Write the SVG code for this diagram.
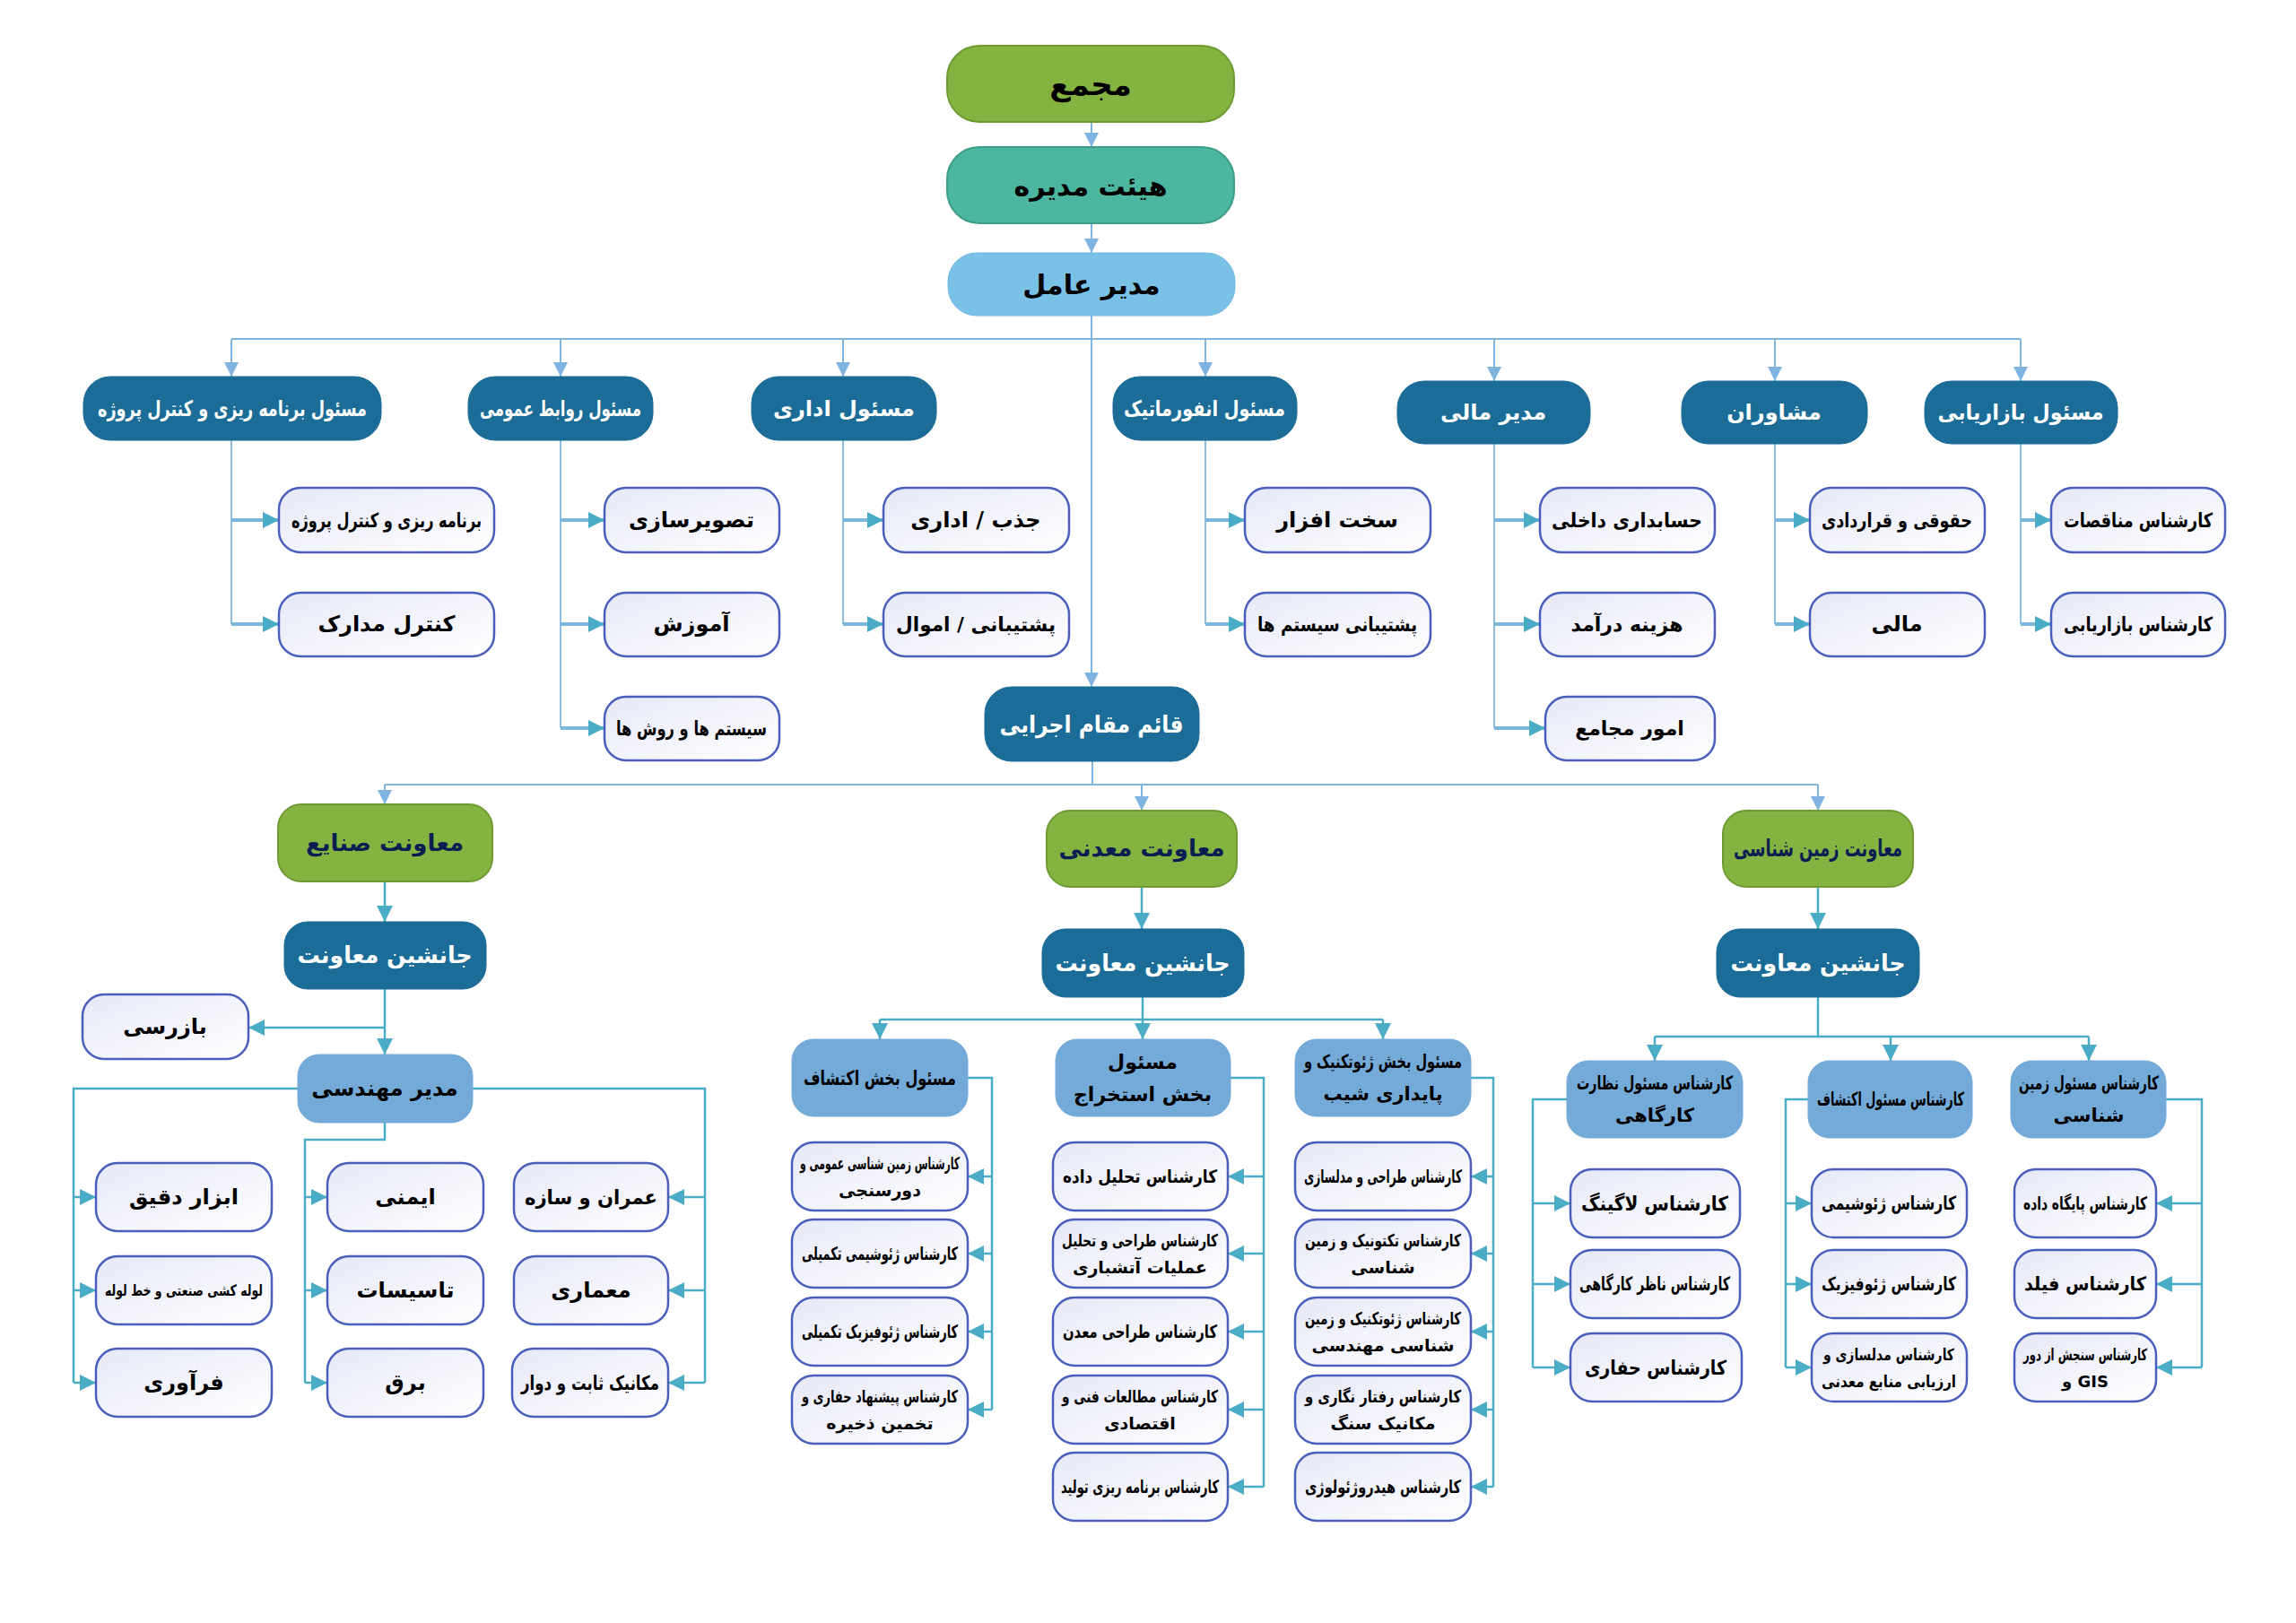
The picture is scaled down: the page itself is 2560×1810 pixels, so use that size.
<svg xmlns="http://www.w3.org/2000/svg" width="2560" height="1810" viewBox="0 0 2560 1810">
<style>
.t{font-family:"DejaVu Sans","Noto Sans",sans-serif;font-weight:bold;text-anchor:middle;dominant-baseline:central}
.g{fill:#84B341;stroke:#6F9A33;stroke-width:2}
.tl{fill:#4DB6A0;stroke:#3F9C89;stroke-width:2}
.lb{fill:#7AC1E8;stroke:#70B8E0;stroke-width:1}
.db{fill:#1B6C97;stroke:#1B6C97;stroke-width:1}
.mb{fill:#74AAD8;stroke:#74AAD8;stroke-width:1}
.cb{fill:url(#cg);stroke:#4A5EBC;stroke-width:2.5}
.w{fill:#FFFFFF}
.k{fill:#000000}
.n{fill:#0B1D51}
.c1{fill:none;stroke:#7FB3E0;stroke-width:2;marker-end:url(#a1)}
.c1n{fill:none;stroke:#7FB3E0;stroke-width:2}
.c2{fill:none;stroke:#8DBDE3;stroke-width:2}
.c3{fill:none;stroke:#7BB7DC;stroke-width:4;marker-end:url(#a2)}
.c4{fill:none;stroke:#4BACC6;stroke-width:2.5;marker-end:url(#a2)}
.c4n{fill:none;stroke:#4BACC6;stroke-width:2.5}
</style>
<defs>
<linearGradient id="cg" x1="0" y1="0" x2="1" y2="1">
<stop offset="0" stop-color="#E6E8F7"/>
<stop offset="1" stop-color="#FFFFFF"/>
</linearGradient>
<marker id="a1" viewBox="0 0 10 10" refX="10" refY="5" markerWidth="16" markerHeight="16" markerUnits="userSpaceOnUse" orient="auto">
<path d="M0,0 L10,5 L0,10 z" fill="#7FB3E0"/>
</marker>
<marker id="a2" viewBox="0 0 10 10" refX="10" refY="5" markerWidth="18" markerHeight="18" markerUnits="userSpaceOnUse" orient="auto">
<path d="M0,0 L10,5 L0,10 z" fill="#4BACC6"/>
</marker>
</defs>
<rect width="2560" height="1810" fill="#FFFFFF"/>

<g id="connectors">
<path class="c1" d="M1217,136 V164"/>
<path class="c1" d="M1217,249 V282"/>
<path class="c1" d="M1217,352 V766"/>
<path class="c1n" d="M258,378 H2253"/>
<path class="c1" d="M258,378 V420"/>
<path class="c1" d="M625,378 V420"/>
<path class="c1" d="M940,378 V420"/>
<path class="c1" d="M1344,378 V420"/>
<path class="c1" d="M1666,378 V425"/>
<path class="c1" d="M1979,378 V425"/>
<path class="c1" d="M2253,378 V425"/>
<path class="c2" d="M258,491 V696"/>
<path class="c3" d="M258,580 H311"/>
<path class="c3" d="M258,696 H311"/>
<path class="c2" d="M625,491 V812"/>
<path class="c3" d="M625,580 H674"/>
<path class="c3" d="M625,696 H674"/>
<path class="c3" d="M625,812 H674"/>
<path class="c2" d="M940,491 V696"/>
<path class="c3" d="M940,580 H985"/>
<path class="c3" d="M940,696 H985"/>
<path class="c2" d="M1344,491 V696"/>
<path class="c3" d="M1344,580 H1388"/>
<path class="c3" d="M1344,696 H1388"/>
<path class="c2" d="M1666,495 V812"/>
<path class="c3" d="M1666,580 H1717"/>
<path class="c3" d="M1666,696 H1717"/>
<path class="c3" d="M1666,812 H1723"/>
<path class="c2" d="M1979,495 V696"/>
<path class="c3" d="M1979,580 H2018"/>
<path class="c3" d="M1979,696 H2018"/>
<path class="c2" d="M2253,495 V696"/>
<path class="c3" d="M2253,580 H2287"/>
<path class="c3" d="M2253,696 H2287"/>
<path class="c1n" d="M1218,849 V875"/>
<path class="c1n" d="M429,875 H2027"/>
<path class="c1" d="M429,875 V897"/>
<path class="c1" d="M1273,875 V904"/>
<path class="c1" d="M2027,875 V904"/>
<path class="c4" d="M429,983 V1028"/>
<path class="c4" d="M1273,989 V1036"/>
<path class="c4" d="M2027,989 V1036"/>
<path class="c4" d="M429,1103 V1176"/>
<path class="c4" d="M429,1146 H277"/>
<path class="c4n" d="M332,1214 H82 V1542"/>
<path class="c4" d="M82,1335 H107"/>
<path class="c4" d="M82,1439 H107"/>
<path class="c4" d="M82,1542 H107"/>
<path class="c4n" d="M429,1252 V1271 H340 V1542"/>
<path class="c4" d="M340,1335 H365"/>
<path class="c4" d="M340,1439 H365"/>
<path class="c4" d="M340,1542 H365"/>
<path class="c4n" d="M527,1214 H786 V1542"/>
<path class="c4" d="M786,1335 H745"/>
<path class="c4" d="M786,1439 H745"/>
<path class="c4" d="M786,1542 H745"/>
<path class="c4" d="M1274,1112 V1159"/>
<path class="c4n" d="M981,1137 H1542"/>
<path class="c4" d="M981,1137 V1159"/>
<path class="c4" d="M1542,1137 V1159"/>
<path class="c4n" d="M1079,1202 H1106 V1572"/>
<path class="c4" d="M1106,1312 H1079"/>
<path class="c4" d="M1106,1398 H1079"/>
<path class="c4" d="M1106,1485 H1079"/>
<path class="c4" d="M1106,1572 H1079"/>
<path class="c4n" d="M1372,1202 H1409 V1658"/>
<path class="c4" d="M1409,1312 H1369"/>
<path class="c4" d="M1409,1398 H1369"/>
<path class="c4" d="M1409,1485 H1369"/>
<path class="c4" d="M1409,1572 H1369"/>
<path class="c4" d="M1409,1658 H1369"/>
<path class="c4n" d="M1640,1202 H1665 V1658"/>
<path class="c4" d="M1665,1312 H1640"/>
<path class="c4" d="M1665,1398 H1640"/>
<path class="c4" d="M1665,1485 H1640"/>
<path class="c4" d="M1665,1572 H1640"/>
<path class="c4" d="M1665,1658 H1640"/>
<path class="c4n" d="M2027,1112 V1156"/>
<path class="c4n" d="M1845,1156 H2329"/>
<path class="c4" d="M1845,1156 V1183"/>
<path class="c4" d="M2108,1156 V1183"/>
<path class="c4" d="M2329,1156 V1183"/>
<path class="c4n" d="M1747,1226 H1709 V1525"/>
<path class="c4" d="M1709,1342 H1751"/>
<path class="c4" d="M1709,1432 H1751"/>
<path class="c4" d="M1709,1525 H1751"/>
<path class="c4n" d="M2016,1226 H1991 V1525"/>
<path class="c4" d="M1991,1342 H2020"/>
<path class="c4" d="M1991,1432 H2020"/>
<path class="c4" d="M1991,1525 H2020"/>
<path class="c4n" d="M2415,1226 H2455 V1525"/>
<path class="c4" d="M2455,1342 H2404"/>
<path class="c4" d="M2455,1432 H2404"/>
<path class="c4" d="M2455,1525 H2404"/>
</g>

<g id="n-majma"><rect class="g" x="1056" y="51" width="320" height="85" rx="36"/><text class="t k" x="1216" y="94" font-size="34">مجمع</text></g>
<g id="n-hey"><rect class="tl" x="1056" y="164" width="320" height="85" rx="36"/><text class="t k" x="1216" y="207" font-size="30">هیئت مدیره</text></g>
<g id="n-modir"><rect class="lb" x="1057" y="282" width="320" height="70" rx="32"/><text class="t k" x="1217" y="317" font-size="30">مدیر عامل</text></g>

<g id="n-barname"><rect class="db" x="93" y="420" width="332" height="71" rx="30"/><text class="t w" x="259" y="456" font-size="24" textLength="300" lengthAdjust="spacingAndGlyphs">مسئول برنامه ریزی و کنترل پروژه</text></g>
<g id="n-ravabet"><rect class="db" x="522" y="420" width="206" height="71" rx="30"/><text class="t w" x="625" y="456" font-size="24" textLength="180" lengthAdjust="spacingAndGlyphs">مسئول روابط عمومی</text></g>
<g id="n-edari"><rect class="db" x="838" y="420" width="206" height="71" rx="30"/><text class="t w" x="941" y="456" font-size="24">مسئول اداری</text></g>
<g id="n-info"><rect class="db" x="1241" y="420" width="205" height="71" rx="30"/><text class="t w" x="1343" y="456" font-size="24" textLength="180" lengthAdjust="spacingAndGlyphs">مسئول انفورماتیک</text></g>
<g id="n-mali"><rect class="db" x="1558" y="425" width="215" height="70" rx="30"/><text class="t w" x="1665" y="460" font-size="24">مدیر مالی</text></g>
<g id="n-moshaver"><rect class="db" x="1875" y="425" width="207" height="70" rx="30"/><text class="t w" x="1978" y="460" font-size="24">مشاوران</text></g>
<g id="n-bazar"><rect class="db" x="2146" y="425" width="215" height="70" rx="30"/><text class="t w" x="2253" y="460" font-size="24" textLength="185" lengthAdjust="spacingAndGlyphs">مسئول بازاریابی</text></g>

<g id="n-b1"><rect class="cb" x="311" y="544" width="240" height="72" rx="24"/><text class="t k" x="431" y="580" font-size="22" textLength="212" lengthAdjust="spacingAndGlyphs">برنامه ریزی و کنترل پروژه</text></g>
<g id="n-b2"><rect class="cb" x="311" y="661" width="240" height="71" rx="24"/><text class="t k" x="431" y="696" font-size="24">کنترل مدارک</text></g>
<g id="n-r1"><rect class="cb" x="674" y="544" width="195" height="72" rx="24"/><text class="t k" x="771" y="580" font-size="24">تصویرسازی</text></g>
<g id="n-r2"><rect class="cb" x="674" y="661" width="195" height="71" rx="24"/><text class="t k" x="771" y="696" font-size="24">آموزش</text></g>
<g id="n-r3"><rect class="cb" x="674" y="777" width="195" height="71" rx="24"/><text class="t k" x="771" y="812" font-size="22" textLength="168" lengthAdjust="spacingAndGlyphs">سیستم ها و روش ها</text></g>
<g id="n-e1"><rect class="cb" x="985" y="544" width="207" height="72" rx="24"/><text class="t k" x="1088" y="580" font-size="24">جذب / اداری</text></g>
<g id="n-e2"><rect class="cb" x="985" y="661" width="207" height="71" rx="24"/><text class="t k" x="1088" y="696" font-size="22" textLength="178" lengthAdjust="spacingAndGlyphs">پشتیبانی / اموال</text></g>
<g id="n-i1"><rect class="cb" x="1388" y="544" width="207" height="72" rx="24"/><text class="t k" x="1491" y="580" font-size="24">سخت افزار</text></g>
<g id="n-i2"><rect class="cb" x="1388" y="661" width="207" height="71" rx="24"/><text class="t k" x="1491" y="696" font-size="22" textLength="178" lengthAdjust="spacingAndGlyphs">پشتیبانی سیستم ها</text></g>
<g id="n-m1"><rect class="cb" x="1717" y="544" width="195" height="72" rx="24"/><text class="t k" x="1814" y="580" font-size="22" textLength="168" lengthAdjust="spacingAndGlyphs">حسابداری داخلی</text></g>
<g id="n-m2"><rect class="cb" x="1717" y="661" width="195" height="71" rx="24"/><text class="t k" x="1814" y="696" font-size="22">هزینه درآمد</text></g>
<g id="n-m3"><rect class="cb" x="1723" y="777" width="189" height="71" rx="24"/><text class="t k" x="1817" y="812" font-size="22">امور مجامع</text></g>
<g id="n-s1"><rect class="cb" x="2018" y="544" width="195" height="72" rx="24"/><text class="t k" x="2115" y="580" font-size="22" textLength="168" lengthAdjust="spacingAndGlyphs">حقوقی و قراردادی</text></g>
<g id="n-s2"><rect class="cb" x="2018" y="661" width="195" height="71" rx="24"/><text class="t k" x="2115" y="696" font-size="24">مالی</text></g>
<g id="n-z1"><rect class="cb" x="2287" y="544" width="194" height="72" rx="24"/><text class="t k" x="2384" y="580" font-size="22" textLength="166" lengthAdjust="spacingAndGlyphs">کارشناس مناقصات</text></g>
<g id="n-z2"><rect class="cb" x="2287" y="661" width="194" height="71" rx="24"/><text class="t k" x="2384" y="696" font-size="22" textLength="166" lengthAdjust="spacingAndGlyphs">کارشناس بازاریابی</text></g>

<g id="n-qaem"><rect class="db" x="1098" y="766" width="239" height="83" rx="30"/><text class="t w" x="1217" y="808" font-size="26" textLength="205" lengthAdjust="spacingAndGlyphs">قائم مقام اجرایی</text></g>

<g id="n-sanaye"><rect class="g" x="310" y="897" width="239" height="86" rx="26"/><text class="t n" x="429" y="940" font-size="26">معاونت صنایع</text></g>
<g id="n-madani"><rect class="g" x="1167" y="904" width="212" height="85" rx="26"/><text class="t n" x="1273" y="946" font-size="26" textLength="185" lengthAdjust="spacingAndGlyphs">معاونت معدنی</text></g>
<g id="n-zamin"><rect class="g" x="1921" y="904" width="212" height="85" rx="26"/><text class="t n" x="2027" y="946" font-size="26" textLength="188" lengthAdjust="spacingAndGlyphs">معاونت زمین شناسی</text></g>
<g id="n-j1"><rect class="db" x="317" y="1028" width="225" height="75" rx="26"/><text class="t w" x="429" y="1065" font-size="26" textLength="195" lengthAdjust="spacingAndGlyphs">جانشین معاونت</text></g>
<g id="n-j2"><rect class="db" x="1162" y="1036" width="225" height="76" rx="26"/><text class="t w" x="1274" y="1074" font-size="26" textLength="195" lengthAdjust="spacingAndGlyphs">جانشین معاونت</text></g>
<g id="n-j3"><rect class="db" x="1914" y="1036" width="226" height="76" rx="26"/><text class="t w" x="2027" y="1074" font-size="26" textLength="195" lengthAdjust="spacingAndGlyphs">جانشین معاونت</text></g>

<g id="n-bazresi"><rect class="cb" x="92" y="1109" width="185" height="72" rx="24"/><text class="t k" x="184" y="1145" font-size="24">بازرسی</text></g>
<g id="n-mohandesi"><rect class="mb" x="332" y="1176" width="195" height="76" rx="24"/><text class="t k" x="429" y="1214" font-size="24">مدیر مهندسی</text></g>
<g id="n-h1"><rect class="cb" x="107" y="1297" width="196" height="76" rx="24"/><text class="t k" x="205" y="1335" font-size="24">ابزار دقیق</text></g>
<g id="n-h2"><rect class="cb" x="107" y="1401" width="196" height="76" rx="24"/><text class="t k" x="205" y="1439" font-size="17" textLength="176" lengthAdjust="spacingAndGlyphs">لوله کشی صنعتی و خط لوله</text></g>
<g id="n-h3"><rect class="cb" x="107" y="1504" width="196" height="76" rx="24"/><text class="t k" x="205" y="1542" font-size="24">فرآوری</text></g>
<g id="n-h4"><rect class="cb" x="365" y="1297" width="174" height="76" rx="24"/><text class="t k" x="452" y="1335" font-size="24">ایمنی</text></g>
<g id="n-h5"><rect class="cb" x="365" y="1401" width="174" height="76" rx="24"/><text class="t k" x="452" y="1439" font-size="24">تاسیسات</text></g>
<g id="n-h6"><rect class="cb" x="365" y="1504" width="174" height="76" rx="24"/><text class="t k" x="452" y="1542" font-size="24">برق</text></g>
<g id="n-h7"><rect class="cb" x="573" y="1297" width="172" height="76" rx="24"/><text class="t k" x="659" y="1335" font-size="22" textLength="148" lengthAdjust="spacingAndGlyphs">عمران و سازه</text></g>
<g id="n-h8"><rect class="cb" x="573" y="1401" width="172" height="76" rx="24"/><text class="t k" x="659" y="1439" font-size="24">معماری</text></g>
<g id="n-h9"><rect class="cb" x="571" y="1504" width="174" height="76" rx="24"/><text class="t k" x="658" y="1542" font-size="22" textLength="154" lengthAdjust="spacingAndGlyphs">مکانیک ثابت و دوار</text></g>

<g id="n-ek"><rect class="mb" x="883" y="1159" width="196" height="86" rx="24"/><text class="t k" x="981" y="1202" font-size="22" textLength="170" lengthAdjust="spacingAndGlyphs">مسئول بخش اکتشاف</text></g>
<g id="n-es"><rect class="mb" x="1177" y="1159" width="195" height="86" rx="24"/><text class="t k" x="1274" y="1202" font-size="22"><tspan x="1274" dy="-18">مسئول</tspan><tspan x="1274" dy="36">بخش استخراج</tspan></text></g>
<g id="n-ge"><rect class="mb" x="1444" y="1159" width="196" height="86" rx="24"/><text class="t k" x="1542" y="1202" font-size="21"><tspan x="1542" dy="-18" textLength="176" lengthAdjust="spacingAndGlyphs">مسئول بخش ژئوتکنیک و</tspan><tspan x="1542" dy="36">پایداری شیب</tspan></text></g>

<g id="n-ek1"><rect class="cb" x="883" y="1274" width="196" height="76" rx="24"/><text class="t k" x="981" y="1312" font-size="19"><tspan x="981" dy="-15" textLength="178" lengthAdjust="spacingAndGlyphs">کارشناس زمین شناسی عمومی و</tspan><tspan x="981" dy="30">دورسنجی</tspan></text></g>
<g id="n-ek2"><rect class="cb" x="883" y="1360" width="196" height="76" rx="24"/><text class="t k" x="981" y="1398" font-size="20" textLength="174" lengthAdjust="spacingAndGlyphs">کارشناس ژئوشیمی تکمیلی</text></g>
<g id="n-ek3"><rect class="cb" x="883" y="1447" width="196" height="76" rx="24"/><text class="t k" x="981" y="1485" font-size="20" textLength="174" lengthAdjust="spacingAndGlyphs">کارشناس ژئوفیزیک تکمیلی</text></g>
<g id="n-ek4"><rect class="cb" x="883" y="1534" width="196" height="76" rx="24"/><text class="t k" x="981" y="1572" font-size="19"><tspan x="981" dy="-15" textLength="174" lengthAdjust="spacingAndGlyphs">کارشناس پیشنهاد حفاری و</tspan><tspan x="981" dy="30">تخمین ذخیره</tspan></text></g>

<g id="n-es1"><rect class="cb" x="1174" y="1274" width="195" height="76" rx="24"/><text class="t k" x="1271" y="1312" font-size="20" textLength="172" lengthAdjust="spacingAndGlyphs">کارشناس تحلیل داده</text></g>
<g id="n-es2"><rect class="cb" x="1174" y="1360" width="195" height="76" rx="24"/><text class="t k" x="1271" y="1398" font-size="19"><tspan x="1271" dy="-15" textLength="174" lengthAdjust="spacingAndGlyphs">کارشناس طراحی و تحلیل</tspan><tspan x="1271" dy="30" textLength="150" lengthAdjust="spacingAndGlyphs">عملیات آتشباری</tspan></text></g>
<g id="n-es3"><rect class="cb" x="1174" y="1447" width="195" height="76" rx="24"/><text class="t k" x="1271" y="1485" font-size="20" textLength="172" lengthAdjust="spacingAndGlyphs">کارشناس طراحی معدن</text></g>
<g id="n-es4"><rect class="cb" x="1174" y="1534" width="195" height="76" rx="24"/><text class="t k" x="1271" y="1572" font-size="19"><tspan x="1271" dy="-15" textLength="174" lengthAdjust="spacingAndGlyphs">کارشناس مطالعات فنی و</tspan><tspan x="1271" dy="30">اقتصادی</tspan></text></g>
<g id="n-es5"><rect class="cb" x="1174" y="1620" width="195" height="76" rx="24"/><text class="t k" x="1271" y="1658" font-size="20" textLength="176" lengthAdjust="spacingAndGlyphs">کارشناس برنامه ریزی تولید</text></g>

<g id="n-ge1"><rect class="cb" x="1444" y="1274" width="196" height="76" rx="24"/><text class="t k" x="1542" y="1312" font-size="20" textLength="176" lengthAdjust="spacingAndGlyphs">کارشناس طراحی و مدلسازی</text></g>
<g id="n-ge2"><rect class="cb" x="1444" y="1360" width="196" height="76" rx="24"/><text class="t k" x="1542" y="1398" font-size="19"><tspan x="1542" dy="-15" textLength="174" lengthAdjust="spacingAndGlyphs">کارشناس تکتونیک و زمین</tspan><tspan x="1542" dy="30">شناسی</tspan></text></g>
<g id="n-ge3"><rect class="cb" x="1444" y="1447" width="196" height="76" rx="24"/><text class="t k" x="1542" y="1485" font-size="19"><tspan x="1542" dy="-15" textLength="174" lengthAdjust="spacingAndGlyphs">کارشناس ژئوتکنیک و زمین</tspan><tspan x="1542" dy="30">شناسی مهندسی</tspan></text></g>
<g id="n-ge4"><rect class="cb" x="1444" y="1534" width="196" height="76" rx="24"/><text class="t k" x="1542" y="1572" font-size="19"><tspan x="1542" dy="-15" textLength="174" lengthAdjust="spacingAndGlyphs">کارشناس رفتار نگاری و</tspan><tspan x="1542" dy="30">مکانیک سنگ</tspan></text></g>
<g id="n-ge5"><rect class="cb" x="1444" y="1620" width="196" height="76" rx="24"/><text class="t k" x="1542" y="1658" font-size="20" textLength="174" lengthAdjust="spacingAndGlyphs">کارشناس هیدروژئولوژی</text></g>

<g id="n-na"><rect class="mb" x="1747" y="1183" width="196" height="86" rx="24"/><text class="t k" x="1845" y="1226" font-size="21"><tspan x="1845" dy="-18" textLength="174" lengthAdjust="spacingAndGlyphs">کارشناس مسئول نظارت</tspan><tspan x="1845" dy="36">کارگاهی</tspan></text></g>
<g id="n-ka"><rect class="mb" x="2016" y="1183" width="183" height="86" rx="24"/><text class="t k" x="2108" y="1226" font-size="21" textLength="164" lengthAdjust="spacingAndGlyphs">کارشناس مسئول اکتشاف</text></g>
<g id="n-zs"><rect class="mb" x="2242" y="1183" width="173" height="86" rx="24"/><text class="t k" x="2329" y="1226" font-size="21"><tspan x="2329" dy="-18" textLength="156" lengthAdjust="spacingAndGlyphs">کارشناس مسئول زمین</tspan><tspan x="2329" dy="36">شناسی</tspan></text></g>

<g id="n-na1"><rect class="cb" x="1751" y="1304" width="189" height="76" rx="24"/><text class="t k" x="1845" y="1342" font-size="22" textLength="164" lengthAdjust="spacingAndGlyphs">کارشناس لاگینگ</text></g>
<g id="n-na2"><rect class="cb" x="1751" y="1394" width="189" height="76" rx="24"/><text class="t k" x="1845" y="1432" font-size="21" textLength="168" lengthAdjust="spacingAndGlyphs">کارشناس ناظر کارگاهی</text></g>
<g id="n-na3"><rect class="cb" x="1751" y="1487" width="191" height="76" rx="24"/><text class="t k" x="1846" y="1525" font-size="22" textLength="158" lengthAdjust="spacingAndGlyphs">کارشناس حفاری</text></g>
<g id="n-ka1"><rect class="cb" x="2020" y="1304" width="173" height="76" rx="24"/><text class="t k" x="2106" y="1342" font-size="21" textLength="150" lengthAdjust="spacingAndGlyphs">کارشناس ژئوشیمی</text></g>
<g id="n-ka2"><rect class="cb" x="2020" y="1394" width="173" height="76" rx="24"/><text class="t k" x="2106" y="1432" font-size="21" textLength="150" lengthAdjust="spacingAndGlyphs">کارشناس ژئوفیزیک</text></g>
<g id="n-ka3"><rect class="cb" x="2020" y="1487" width="173" height="76" rx="24"/><text class="t k" x="2106" y="1525" font-size="18"><tspan x="2106" dy="-15" textLength="146" lengthAdjust="spacingAndGlyphs">کارشناس مدلسازی و</tspan><tspan x="2106" dy="30" textLength="150" lengthAdjust="spacingAndGlyphs">ارزیابی منابع معدنی</tspan></text></g>
<g id="n-zs1"><rect class="cb" x="2246" y="1304" width="158" height="76" rx="24"/><text class="t k" x="2325" y="1342" font-size="20" textLength="138" lengthAdjust="spacingAndGlyphs">کارشناس پایگاه داده</text></g>
<g id="n-zs2"><rect class="cb" x="2246" y="1394" width="158" height="76" rx="24"/><text class="t k" x="2325" y="1432" font-size="21" textLength="136" lengthAdjust="spacingAndGlyphs">کارشناس فیلد</text></g>
<g id="n-zs3"><rect class="cb" x="2246" y="1487" width="158" height="76" rx="24"/><text class="t k" x="2325" y="1525" font-size="18"><tspan x="2325" dy="-15" textLength="138" lengthAdjust="spacingAndGlyphs">کارشناس سنجش از دور</tspan><tspan x="2325" dy="30">و GIS</tspan></text></g>
</svg>
